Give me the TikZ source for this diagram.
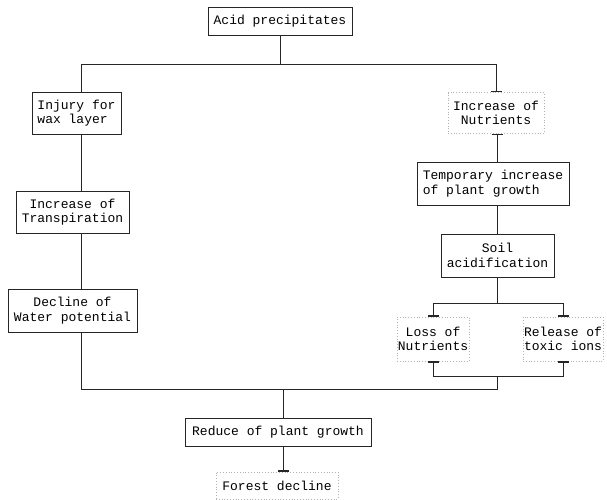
\documentclass[tikz,border=0pt]{standalone}
\usepackage{fontspec}
\newfontfamily\typefont{Liberation Mono}
\usetikzlibrary{arrows.meta}

\begin{document}
\begin{tikzpicture}[x=1pt, y=-1pt,
    box/.style={rectangle, draw=black!85, line width=0.8pt, inner sep=3pt, align=center,
        font=\typefont\fontsize{13}{14.5}\selectfont},
    faintbox/.style={box, draw=black!30, dotted, line width=0.6pt, inner sep=1pt},
    link/.style={draw=black!85, line width=0.8pt},
    bar/.style={-{Bar[width=11pt, line width=1.3pt]}},
    barstart/.style={{Bar[width=11pt, line width=1.3pt]}-}]

    \useasboundingbox (0,0) rectangle (607,499);

    % Top
    \node[box, minimum width=144pt, minimum height=28pt] (acid) at (280,21) {Acid precipitates};

    % Left branch
    \node[box, align=left, minimum width=89pt, minimum height=42pt] (injury) at (76.5,113) {Injury for\\wax layer};
    \node[box, minimum width=113pt, minimum height=42pt] (transp) at (72.5,212) {Increase of\\Transpiration};
    \node[box, minimum width=129pt, minimum height=43pt] (decline) at (72.5,310.5) {Decline of\\Water potential};

    % Right branch
    \node[faintbox, minimum width=96pt, minimum height=41pt] (nutr) at (496,113) {Increase of\\Nutrients};
    \node[box, align=left, minimum width=152pt, minimum height=43pt] (temp) at (493,183.5) {Temporary increase\\of plant growth};
    \node[box, minimum width=113pt, minimum height=43pt] (soil) at (497.5,255.5) {Soil\\acidification};
    \node[faintbox, minimum width=58pt, minimum height=44pt] (loss) at (433,339) {Loss of\\Nutrients};
    \node[faintbox, minimum width=78pt, minimum height=44pt] (release) at (563,339) {Release of\\toxic ions};

    % Bottom
    \node[box, minimum width=186pt, minimum height=28pt] (reduce) at (278,432) {Reduce of plant growth};
    \node[faintbox, minimum width=122pt, minimum height=27pt] (forest) at (277,485.5) {Forest decline};

    \coordinate (topL) at (81,64);
    \coordinate (topR) at (496,64);
    \coordinate (split) at (497,303);
    \coordinate (joinLR) at (497,376);
    \coordinate (botL) at (81,389);
    \coordinate (botM) at (283,389);

    % Split below acid precipitates
    \draw[link] (acid) -- (acid |- topL);
    \draw[link] (topL) -- (topR);
    \draw[link] (topL) -- (topL |- injury.north);
    \draw[link, bar] (topR) -- (topR |- nutr.north);

    % Left chain
    \draw[link] (topL |- injury.south) -- (topL |- transp.north);
    \draw[link] (topL |- transp.south) -- (topL |- decline.north);
    \draw[link] (topL |- decline.south) -- (botL) -- (botL -| joinLR) -- (joinLR);

    % Right chain
    \draw[link, barstart] (split |- nutr.south) -- (split |- temp.north);
    \draw[link] (split |- temp.south) -- (split |- soil.north);
    \draw[link] (split |- soil.south) -- (split);
    \draw[link, bar] (split) -| (loss.north);
    \draw[link, bar] (split) -| (release.north);
    \draw[link, barstart] (loss.south) |- (joinLR);
    \draw[link, barstart] (release.south) |- (joinLR);

    % Result
    \draw[link] (botM) -- (botM |- reduce.north);
    \draw[link, bar] (botM |- reduce.south) -- (botM |- forest.north);

\end{tikzpicture}
\end{document}
